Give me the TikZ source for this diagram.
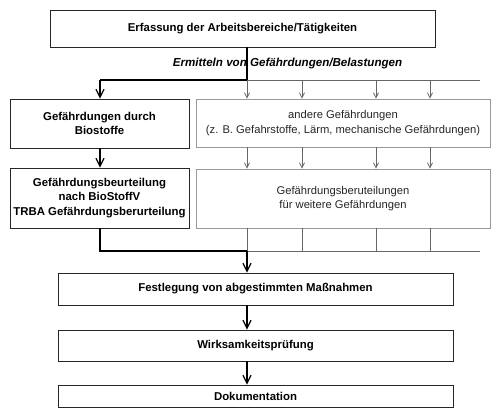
\documentclass[tikz,border=0pt]{standalone}
\usepackage{fontspec}
\setmainfont{Liberation Sans}
\usetikzlibrary{arrows.meta}
\begin{document}
\begin{tikzpicture}[x=1pt,y=-1pt,
  box/.style={draw=black!85,line width=0.9pt,fill=white,inner sep=0pt,align=center,font=\fontsize{11.4}{14.5}\selectfont\bfseries},
  gbox/.style={draw=black!40,line width=0.9pt,fill=white,inner sep=0pt,align=center,text=black!85,font=\fontsize{11.2}{14.5}\selectfont},
  main/.style={line width=1.4pt,black},
  thin/.style={line width=0.8pt,black!60},
  bigarrow/.style={-{Straight Barb[length=8pt,width=8pt,line width=1.2pt]}},
  smallarrow/.style={-{Straight Barb[length=5pt,width=5pt]}}
]
\useasboundingbox (0,0) rectangle (500,416);
\node[box,minimum width=385pt,minimum height=37pt] (top) at (242.5,28.5) {Erfassung der Arbeitsbereiche/Tätigkeiten};
\node[box,minimum width=179pt,minimum height=49pt] (lb1) at (99.5,123.5) {Gefährdungen durch\\Biostoffe};
\node[gbox,minimum width=294pt,minimum height=48pt] (rb1) at (343,123) {andere Gefährdungen\\(z. B. Gefahrstoffe, Lärm, mechanische Gefährdungen)};
\node[box,minimum width=179pt,minimum height=60pt] (lb2) at (99.5,198) {Gefährdungsbeurteilung\\nach BioStoffV\\TRBA Gefährdungsberurteilung};
\node[gbox,minimum width=294pt,minimum height=59pt] (rb2) at (343,198.5) {Gefährdungsberuteilungen\\für weitere Gefährdungen};
\node[box,minimum width=395pt,minimum height=32pt] (fest) at (255.5,289) {Festlegung von abgestimmten Maßnahmen};
\node[box,minimum width=395pt,minimum height=31pt] (wirk) at (255.5,345.5) {Wirksamkeitsprüfung};
\node[box,minimum width=395pt,minimum height=22pt] (doku) at (255.5,396) {Dokumentation};

\node[font=\fontsize{11.6}{12}\selectfont\bfseries\itshape] (lab) at (287.5,63.5) {Ermitteln von Gefährdungen/Belastungen};

% top split
\coordinate (tj) at (247,80);
\coordinate (tl) at (100,80);
\coordinate (tr) at (480,80);
\coordinate (x1) at (247,0);
\coordinate (x2) at (302,0);
\coordinate (x3) at (376,0);
\coordinate (x4) at (430,0);
\draw[thin] (tj) -- (tr);
\draw[main] (top.south -| tj) -- (tj) -- (tl);
\draw[main,bigarrow] (tl) -- (lb1.north -| tl);
\foreach \c in {x1,x2,x3,x4}{
  \draw[thin,smallarrow] (tj -| \c) -- (rb1.north -| \c);
  \draw[thin,smallarrow] (rb1.south -| \c) -- (rb2.north -| \c);
}
\draw[main,bigarrow] (lb1.south -| tl) -- (lb2.north -| tl);

% bottom join
\coordinate (bj) at (247,251);
\coordinate (br) at (480,251);
\draw[thin] (bj) -- (br);
\foreach \c in {x1,x2,x3,x4}{
  \draw[thin] (rb2.south -| \c) -- (bj -| \c);
}
\draw[main] (lb2.south -| tl) |- (bj);
\draw[main,bigarrow] (bj) -- (fest.north -| bj);
\draw[main,bigarrow] (fest.south -| bj) -- (wirk.north -| bj);
\draw[main,bigarrow] (wirk.south -| bj) -- (doku.north -| bj);
\end{tikzpicture}
\end{document}
